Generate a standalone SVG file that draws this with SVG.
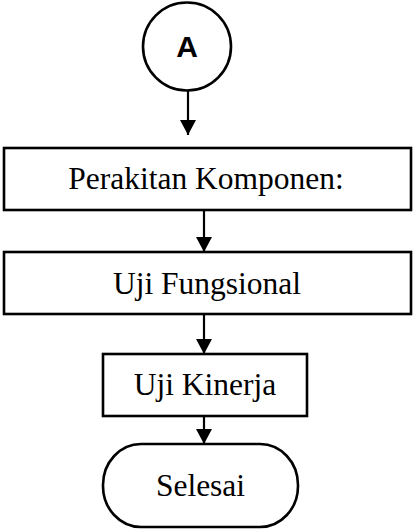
<svg xmlns="http://www.w3.org/2000/svg" width="414" height="529" viewBox="0 0 414 529">
<defs>
<style>
.shape{fill:#fff;stroke:#000;stroke-width:2.6}
.t{font-family:"Liberation Serif","Times New Roman",serif;font-size:31.5px;fill:#000;text-anchor:middle}
.a{font-family:"Liberation Sans",Arial,sans-serif;font-size:30px;font-weight:bold;fill:#000;text-anchor:middle}
.c{stroke:#000;stroke-width:2.2;fill:none}
</style>
<marker id="ah" viewBox="0 0 15 16" refX="15" refY="8" markerWidth="15" markerHeight="16" markerUnits="userSpaceOnUse" orient="auto">
<path d="M0,0 L15,8 L0,16 Z" fill="#000"/>
</marker>
</defs>
<g id="connectors">
<line class="c" x1="188" y1="91" x2="188" y2="135" marker-end="url(#ah)"/>
<line class="c" x1="204" y1="210" x2="204" y2="252" marker-end="url(#ah)"/>
<line class="c" x1="204" y1="314" x2="204" y2="354" marker-end="url(#ah)"/>
<line class="c" x1="204" y1="416" x2="204" y2="444" marker-end="url(#ah)"/>
</g>
<g id="nodeA">
<circle class="shape" cx="187" cy="46.5" r="44"/>
<text class="a" x="187" y="57">A</text>
</g>
<g id="perakitan">
<rect class="shape" x="4" y="148" width="407" height="62"/>
<text class="t" x="206" y="189">Perakitan Komponen:</text>
</g>
<g id="fungsional">
<rect class="shape" x="4" y="252" width="407" height="62"/>
<text class="t" x="207" y="294">Uji Fungsional</text>
</g>
<g id="kinerja">
<rect class="shape" x="103" y="354" width="204" height="62"/>
<text class="t" x="205" y="395">Uji Kinerja</text>
</g>
<g id="selesai">
<rect class="shape" x="103" y="444" width="195" height="83" rx="38" ry="41"/>
<text class="t" x="200.5" y="496">Selesai</text>
</g>
</svg>
